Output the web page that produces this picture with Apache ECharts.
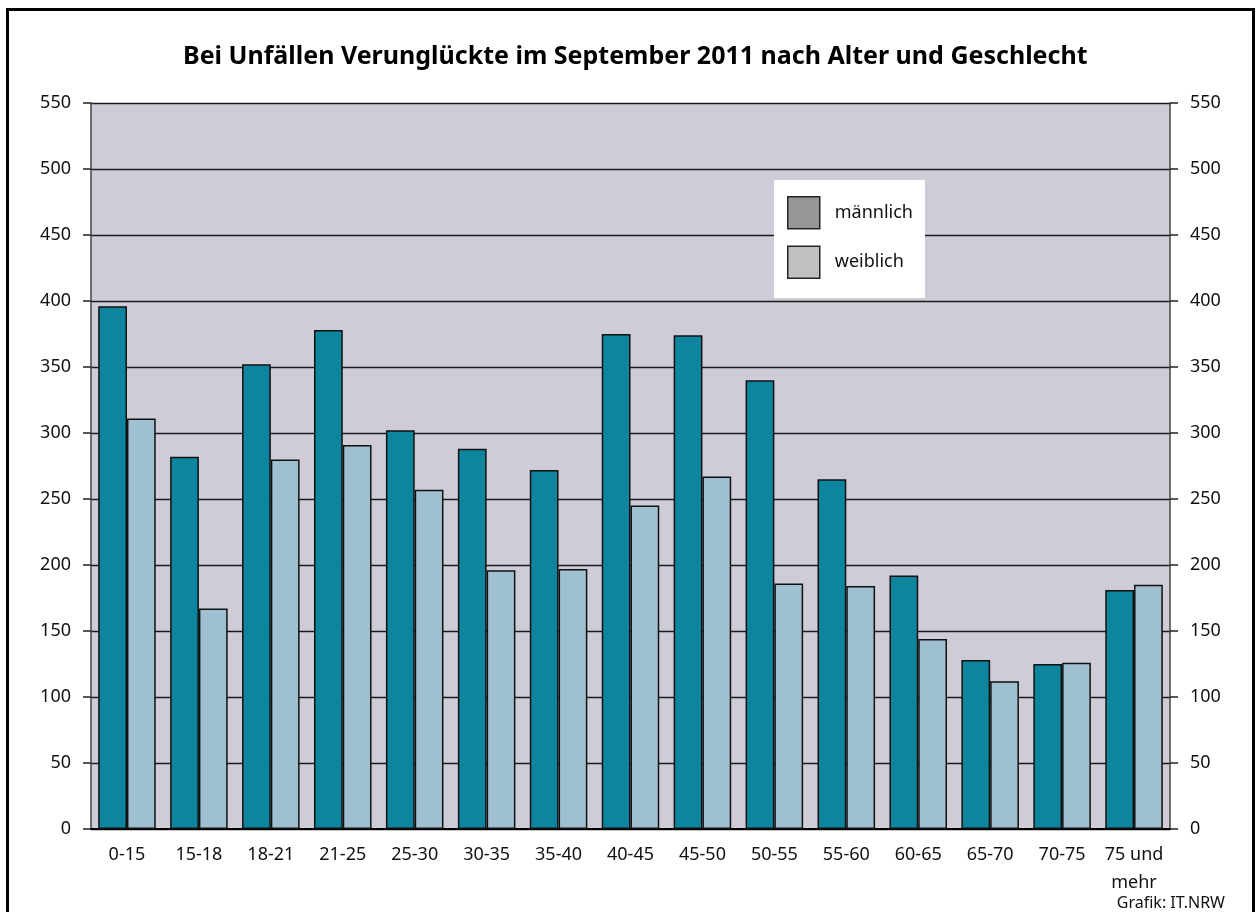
<!DOCTYPE html>
<html>
<head>
<meta charset="utf-8">
<script src="https://cdn.jsdelivr.net/npm/echarts@6/dist/echarts.min.js"></script>
<style>
  html, body { margin: 0; padding: 0; background: #ffffff; }
  #chart { width: 1257px; height: 912px; }
</style>
</head>
<body>
<div id="chart"></div>
<script>
const titleText = 'Bei Unfällen Verunglückte im September 2011 nach Alter und Geschlecht';
const categories = ['0-15', '15-18', '18-21', '21-25', '25-30', '30-35', '35-40', '40-45', '45-50', '50-55', '55-60', '60-65', '65-70', '70-75', '75 und\nmehr'];
const seriesNames = ['männlich', 'weiblich'];
const maleValues = [396, 282, 352, 378, 302, 288, 272, 375, 374, 340, 265, 192, 128, 125, 181];
const femaleValues = [311, 167, 280, 291, 257, 196, 197, 245, 267, 186, 184, 144, 112, 126, 185];
const sourceText = 'Grafik: IT.NRW';

const FONT = '"Noto Sans", "DejaVu Sans", sans-serif';
const chart = echarts.init(document.getElementById('chart'), null, { renderer: 'canvas' });

const yAxisCommon = {
  type: 'value', min: 0, max: 550, interval: 50,
  axisLine: { show: true, lineStyle: { color: '#444', width: 1.5 } },
  axisTick: { show: true, length: 8, lineStyle: { color: '#222', width: 1.5 } },
  axisLabel: { fontSize: 18, color: '#111', fontFamily: FONT, margin: 20 }
};

chart.setOption({
  animation: false,
  backgroundColor: '#ffffff',
  title: {
    text: titleText, left: 178, top: 39,
    textStyle: { fontSize: 25, fontWeight: 'bold', color: '#000', fontFamily: FONT }
  },
  grid: {
    left: 91, right: 87, top: 103, bottom: 83,
    show: true, backgroundColor: '#cfccd7', borderWidth: 0
  },
  legend: {
    orient: 'vertical', left: 774, top: 180,
    backgroundColor: '#ffffff',
    padding: [16, 12, 19, 13],
    itemWidth: 32, itemHeight: 32, itemGap: 16,
    icon: 'rect',
    textStyle: { fontSize: 18, color: '#111', fontFamily: FONT, padding: [0, 0, 0, 10] },
    data: [
      { name: seriesNames[0], itemStyle: { color: '#969696', borderColor: '#222', borderWidth: 1.5 } },
      { name: seriesNames[1], itemStyle: { color: '#c0c0c0', borderColor: '#222', borderWidth: 1.5 } }
    ]
  },
  xAxis: {
    type: 'category', data: categories,
    axisLine: { show: true, lineStyle: { color: '#000', width: 2 } },
    axisTick: { show: false },
    axisLabel: { fontSize: 18, color: '#111', fontFamily: FONT, margin: 12, lineHeight: 28, interval: 0 },
    splitLine: { show: false }
  },
  yAxis: [
    Object.assign({}, yAxisCommon, {
      position: 'left',
      splitLine: { show: true, lineStyle: { color: '#1a1a1a', width: 1.4 } }
    }),
    Object.assign({}, yAxisCommon, {
      position: 'right',
      splitLine: { show: false }
    })
  ],
  series: [
    {
      name: seriesNames[0], type: 'bar', data: maleValues,
      barGap: '0%', barCategoryGap: '20%',
      itemStyle: { color: '#0e859e', borderColor: '#111', borderWidth: 1.5 }
    },
    {
      name: seriesNames[1], type: 'bar', data: femaleValues,
      barGap: '0%', barCategoryGap: '20%',
      itemStyle: { color: '#9fc0d0', borderColor: '#111', borderWidth: 1.5 }
    }
  ],
  graphic: [
    {
      type: 'rect', silent: true, z: 100,
      shape: { x: 7.5, y: 9.5, width: 1246, height: 930 },
      style: { fill: 'none', stroke: '#000', lineWidth: 3 }
    },
    {
      type: 'text', right: 32, top: 895, z: 100,
      style: { text: sourceText, fontSize: 16, fill: '#111', fontFamily: FONT }
    }
  ]
});
</script>
</body>
</html>
